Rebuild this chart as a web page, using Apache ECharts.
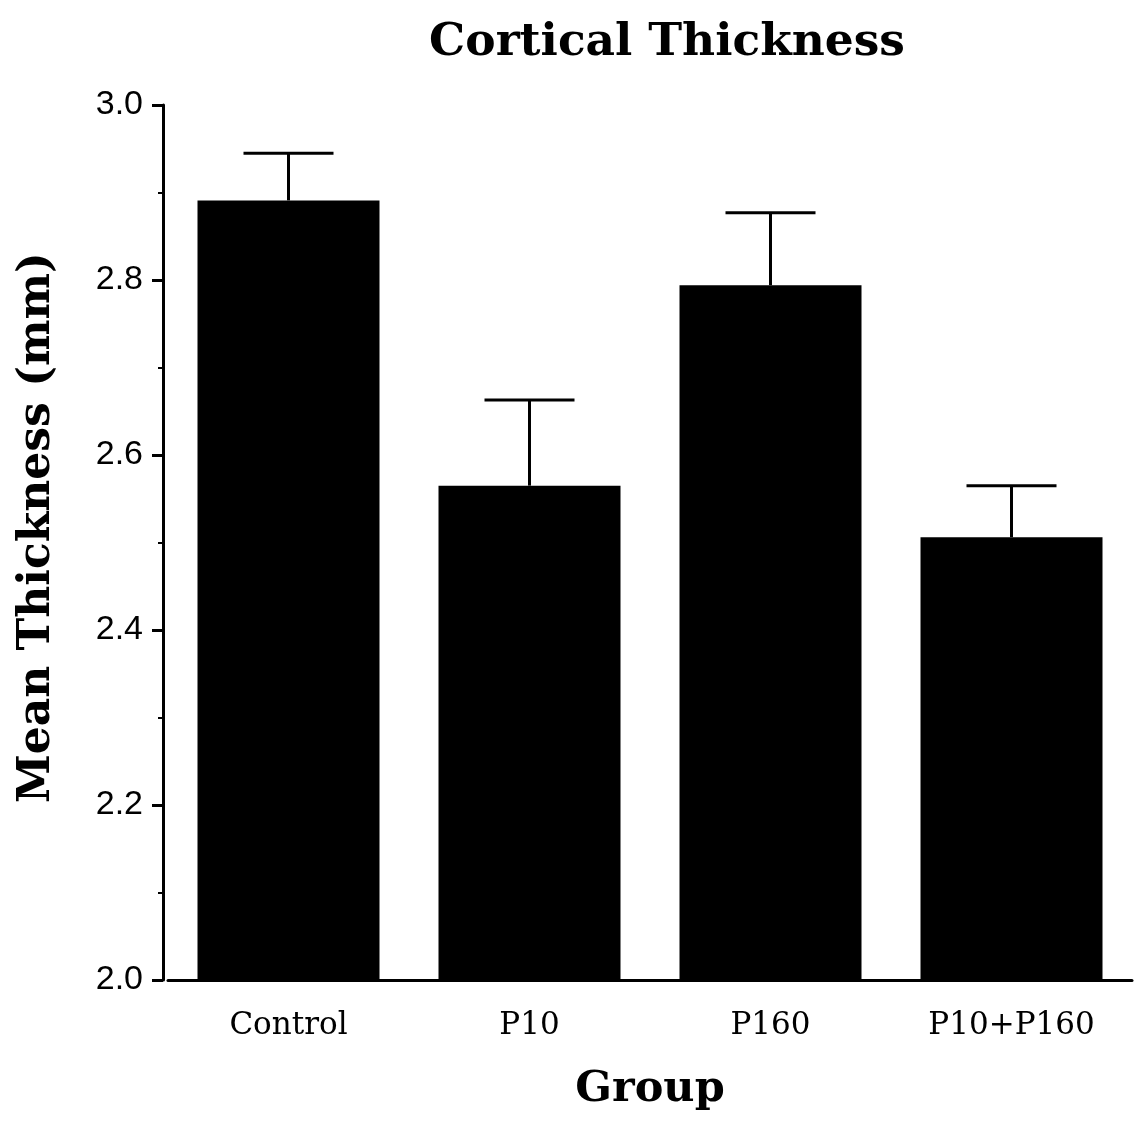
<!DOCTYPE html>
<html><head><meta charset="utf-8">
<script src="https://cdn.jsdelivr.net/npm/echarts@6/dist/echarts.min.js"></script>
<style>html,body{margin:0;padding:0;background:#fff}#c{width:1136px;height:1121px}</style>
</head><body><div id="c"></div>
<script>
var categories = ['Control', 'P10', 'P160', 'P10+P160'];
var means = [2.891, 2.565, 2.794, 2.506];
var errTops = [2.945, 2.663, 2.877, 2.565];
var yTicks = [2.0, 2.2, 2.4, 2.6, 2.8, 3.0];

var chart = echarts.init(document.getElementById('c'));
var serif = '"DejaVu Serif", "Liberation Serif", serif';
chart.setOption({
  animation: false,
  backgroundColor: '#fff',
  title: {
    text: 'Cortical Thickness', left: 662, top: 15, textAlign: 'center',
    textStyle: {fontFamily: serif, fontWeight: 'bold', fontSize: 45.5, color: '#000'}
  },
  grid: {left: 168, right: 4, top: 105, bottom: 141, containLabel: false, outerBoundsMode: 'none'},
  xAxis: {
    type: 'category', data: categories,
    name: 'Group', nameLocation: 'middle', nameGap: 88,
    nameTextStyle: {fontFamily: serif, fontWeight: 'bold', fontSize: 43, color: '#000'},
    axisLine: {lineStyle: {color: '#000', width: 3}},
    axisTick: {show: false},
    axisLabel: {fontFamily: serif, fontSize: 31, color: '#000', margin: 30}
  },
  yAxis: {
    type: 'value', min: 2.0, max: 3.0, interval: 0.2, offset: 5,
    name: 'Mean Thickness (mm)', nameLocation: 'middle', nameGap: 103,
    nameTextStyle: {fontFamily: serif, fontWeight: 'bold', fontSize: 44, color: '#000', padding: [0, 0, 0, 30]},
    axisLine: {show: true, lineStyle: {color: '#000', width: 3}},
    axisTick: {show: true, inside: false, length: 11, lineStyle: {color: '#000', width: 3}},
    minorTick: {show: true, splitNumber: 2, length: 5, lineStyle: {color: '#000', width: 2}},
    splitLine: {show: false},
    axisLabel: {fontFamily: '"Liberation Sans", Arial, sans-serif', fontSize: 34, color: '#000', margin: 20,
      formatter: function (v) { return v.toFixed(1); }}
  },
  series: [
    {
      type: 'bar', data: means, barWidth: 182,
      itemStyle: {color: '#000'}, z: 2
    },
    {
      type: 'custom', z: 3,
      data: categories.map(function (c, i) { return [i, means[i], errTops[i]]; }),
      renderItem: function (params, api) {
        var base = api.coord([api.value(0), api.value(1)]);
        var top = api.coord([api.value(0), api.value(2)]);
        var half = 45;
        return {
          type: 'group',
          children: [
            {type: 'line', shape: {x1: base[0], y1: base[1], x2: top[0], y2: top[1]},
              style: {stroke: '#000', lineWidth: 3}},
            {type: 'line', shape: {x1: top[0] - half, y1: top[1], x2: top[0] + half, y2: top[1]},
              style: {stroke: '#000', lineWidth: 3}}
          ]
        };
      }
    }
  ]
});
</script></body></html>
